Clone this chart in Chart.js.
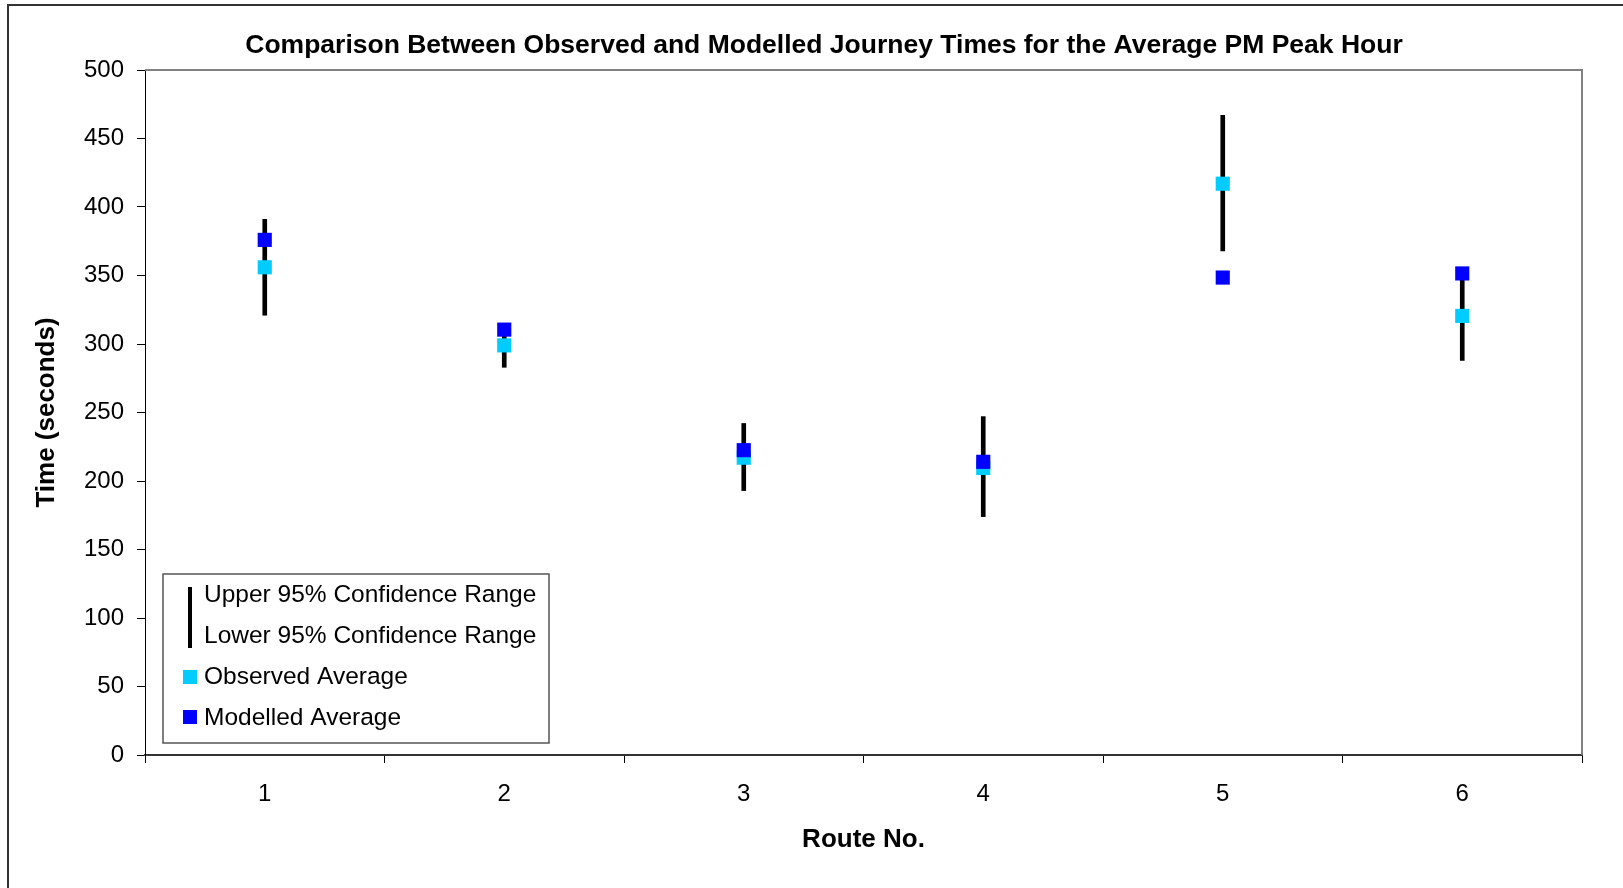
<!DOCTYPE html>
<html>
<head>
<meta charset="utf-8">
<title>Observed vs Modelled Journey Times</title>
<script src="https://cdn.jsdelivr.net/npm/chart.js@4.4.1/dist/chart.umd.min.js"></script>
<style>
    html, body { margin: 0; padding: 0; background: #fff; }
    #wrap { width: 1623px; height: 888px; position: relative; }
</style>
</head>
<body>
<div id="wrap"><canvas id="journeyChart"></canvas></div>
<script>
// Route numbers on the x axis
const routes = ['1', '2', '3', '4', '5', '6'];
// 95% confidence range (seconds)
const upperRange = [391, 308, 242, 247, 467, 349];
const lowerRange = [321, 283, 193, 174, 368, 288];
// Averages (seconds)
const observedAvg = [356, 299, 217, 209.5, 417, 320.5];
const modelledAvg = [376, 310.5, 222.5, 214, 348.5, 351.5];
// y axis ticks
const yMin = 0;
const yMax = 500;
const yStep = 50;

const chartTitle = 'Comparison Between Observed and Modelled Journey Times for the Average PM Peak Hour';
const FONT = '"Liberation Sans", Arial, sans-serif';

// Floating bars used as the confidence range lines
const rangeBars = lowerRange.map((low, i) => [low, upperRange[i]]);

// Draws the title, the outer frame, the grey plot border and the legend box
const framePlugin = {
    id: 'framePlugin',
    afterDraw(chart) {
        const ctx = chart.ctx;
        const area = chart.chartArea;
        ctx.save();

        // outer border (only top and left are visible)
        ctx.strokeStyle = '#333';
        ctx.lineWidth = 2;
        ctx.beginPath();
        ctx.moveTo(8, chart.height);
        ctx.lineTo(8, 5);
        ctx.lineTo(chart.width, 5);
        ctx.stroke();

        // title, sits a little left of the plot centre like the original
        ctx.font = 'bold 26.5px ' + FONT;
        ctx.fillStyle = '#000';
        ctx.textAlign = 'center';
        ctx.textBaseline = 'middle';
        ctx.fillText(chartTitle, 824, 46);

        // grey top and right of the plot area
        ctx.strokeStyle = '#808080';
        ctx.lineWidth = 2;
        ctx.beginPath();
        ctx.moveTo(area.left, area.top);
        ctx.lineTo(area.right, area.top);
        ctx.lineTo(area.right, area.bottom);
        ctx.stroke();

        // legend
        const box = { x: 163, y: 574, w: 386, h: 169 };
        ctx.fillStyle = '#fff';
        ctx.fillRect(box.x, box.y, box.w, box.h);
        ctx.strokeStyle = '#555';
        ctx.lineWidth = 1.5;
        ctx.strokeRect(box.x, box.y, box.w, box.h);

        ctx.font = '24.5px ' + FONT;
        ctx.fillStyle = '#000';
        ctx.textBaseline = 'middle';
        ctx.textAlign = 'left';

        ctx.strokeStyle = '#000';
        ctx.lineWidth = 4;
        ctx.beginPath();
        ctx.moveTo(190, 587);
        ctx.lineTo(190, 648);
        ctx.stroke();
        ctx.fillText('Upper 95% Confidence Range', 204, 595);
        ctx.fillText('Lower 95% Confidence Range', 204, 636);

        ctx.fillStyle = '#00CCFF';
        ctx.fillRect(183, 670, 14, 14);
        ctx.fillStyle = '#000';
        ctx.fillText('Observed Average', 204, 677);

        ctx.fillStyle = '#0000FF';
        ctx.fillRect(183, 710, 14, 14);
        ctx.fillStyle = '#000';
        ctx.fillText('Modelled Average', 204, 718);

        ctx.restore();
    }
};

const ctx = document.getElementById('journeyChart');

new Chart(ctx, {
    type: 'bar',
    data: {
        labels: routes,
        datasets: [
            {
                type: 'line',
                label: 'Modelled Average',
                data: modelledAvg,
                showLine: false,
                pointStyle: 'rect',
                pointRadius: 10,
                pointHoverRadius: 10,
                pointBorderWidth: 0,
                backgroundColor: '#0000FF',
                borderColor: '#0000FF',
                order: 1
            },
            {
                type: 'line',
                label: 'Observed Average',
                data: observedAvg,
                showLine: false,
                pointStyle: 'rect',
                pointRadius: 10,
                pointHoverRadius: 10,
                pointBorderWidth: 0,
                backgroundColor: '#00CCFF',
                borderColor: '#00CCFF',
                order: 2
            },
            {
                type: 'bar',
                label: '95% Confidence Range',
                data: rangeBars,
                backgroundColor: '#000',
                borderWidth: 0,
                barThickness: 4,
                grouped: false,
                order: 3
            }
        ]
    },
    options: {
        responsive: true,
        maintainAspectRatio: false,
        animation: false,
        layout: {
            padding: { left: 0, right: 41, top: 70, bottom: 0 }
        },
        plugins: {
            legend: { display: false },
            tooltip: { enabled: false },
            title: { display: false }
        },
        scales: {
            x: {
                offset: true,
                afterFit(scale) { scale.height = 133; },
                grid: {
                    display: true,
                    offset: true,
                    drawOnChartArea: false,
                    drawTicks: true,
                    tickLength: 8,
                    color: '#000'
                },
                border: { display: true, color: '#333', width: 2 },
                ticks: {
                    color: '#000',
                    padding: 17,
                    font: { family: FONT, size: 24 }
                },
                title: {
                    display: true,
                    text: 'Route No.',
                    color: '#000',
                    font: { family: FONT, size: 26, weight: 'bold' },
                    padding: { top: 0, bottom: 33 }
                }
            },
            y: {
                min: yMin,
                max: yMax,
                afterFit(scale) { scale.width = 145; },
                grid: {
                    display: true,
                    drawOnChartArea: false,
                    drawTicks: true,
                    tickLength: 8,
                    color: '#000'
                },
                border: { display: true, color: '#000', width: 1 },
                ticks: {
                    stepSize: yStep,
                    color: '#000',
                    padding: 13,
                    font: { family: FONT, size: 24 }
                },
                title: {
                    display: true,
                    text: 'Time (seconds)',
                    color: '#000',
                    font: { family: FONT, size: 26, weight: 'bold' },
                    padding: { top: 31, bottom: 0 }
                }
            }
        }
    },
    plugins: [framePlugin]
});
</script>
</body>
</html>
